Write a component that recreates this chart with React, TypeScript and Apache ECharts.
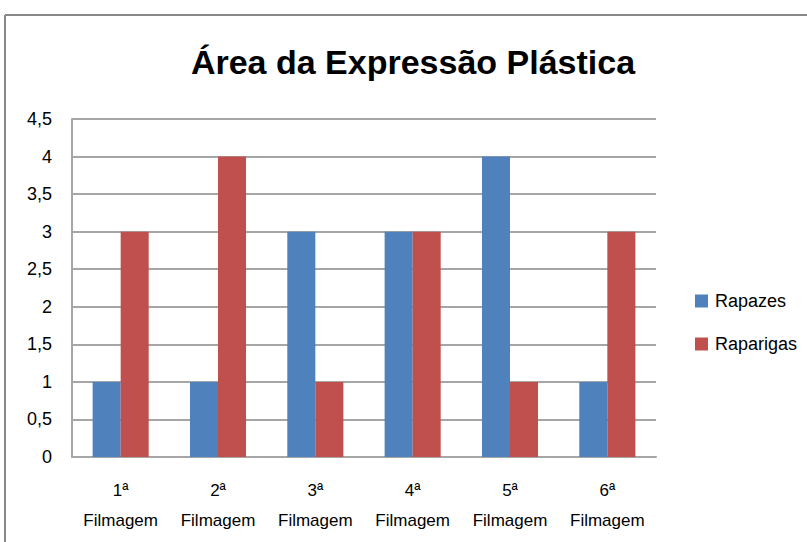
import React, { useEffect, useRef } from "react";
import * as echarts from "echarts";

const title = "Área da Expressão Plástica";
const categories = ["1ª\nFilmagem", "2ª\nFilmagem", "3ª\nFilmagem", "4ª\nFilmagem", "5ª\nFilmagem", "6ª\nFilmagem"];
const seriesNames = ["Rapazes", "Raparigas"];
const rapazes = [1, 1, 3, 3, 4, 1];
const raparigas = [3, 4, 1, 3, 1, 3];
const yMin = 0;
const yMax = 4.5;
const yInterval = 0.5;

const FONT = "'Liberation Sans', Arial, sans-serif";

export default function App() {
  const ref = useRef<HTMLDivElement>(null);
  useEffect(() => {
    document.body.style.margin = "0";
    if (!ref.current) return;
    const chart = echarts.init(ref.current, undefined, { renderer: "svg" });
    chart.setOption({
      animation: false,
      backgroundColor: "#ffffff",
      title: {
        text: title,
        left: 408,
        textAlign: "center",
        top: 40,
        textStyle: { fontFamily: FONT, fontWeight: "bold", fontSize: 34, color: "#000000" },
      },
      graphic: [
        { type: "line", shape: { x1: 5, y1: 15, x2: 807, y2: 15 }, style: { stroke: "#888888", lineWidth: 2 } },
        { type: "line", shape: { x1: 5, y1: 15, x2: 5, y2: 542 }, style: { stroke: "#888888", lineWidth: 2 } },
      ],
      legend: {
        orient: "vertical",
        left: 690,
        top: 287,
        itemWidth: 13,
        itemHeight: 13,
        itemGap: 25,
        icon: "rect",
        textStyle: { fontFamily: FONT, fontSize: 18, color: "#000000", padding: [0, 0, 0, 2] },
        data: seriesNames,
      },
      grid: { left: 72, right: 151, top: 119, bottom: 85, containLabel: false },
      xAxis: {
        type: "category",
        data: categories,
        axisLine: { show: true, lineStyle: { color: "#a6a6a6", width: 2 } },
        axisTick: { show: false },
        axisLabel: {
          interval: 0,
          margin: 18,
          fontFamily: FONT,
          fontSize: 17,
          lineHeight: 30,
          color: "#000000",
        },
      },
      yAxis: {
        type: "value",
        min: yMin,
        max: yMax,
        interval: yInterval,
        axisLine: { show: true, lineStyle: { color: "#a6a6a6", width: 2 } },
        axisTick: { show: false },
        splitLine: { show: true, lineStyle: { color: "#a6a6a6", width: 2 } },
        axisLabel: {
          margin: 20,
          fontFamily: FONT,
          fontSize: 18,
          color: "#000000",
          formatter: (v: number) => String(v).replace(".", ","),
        },
      },
      series: [
        {
          name: seriesNames[0],
          type: "bar",
          data: rapazes,
          itemStyle: { color: "#4F81BD" },
          barGap: "0%",
          barCategoryGap: "42.4%",
        },
        {
          name: seriesNames[1],
          type: "bar",
          data: raparigas,
          itemStyle: { color: "#C0504D" },
          barGap: "0%",
          barCategoryGap: "42.4%",
        },
      ],
    });
    return () => chart.dispose();
  }, []);
  return <div ref={ref} style={{ width: 807, height: 542 }} />;
}
